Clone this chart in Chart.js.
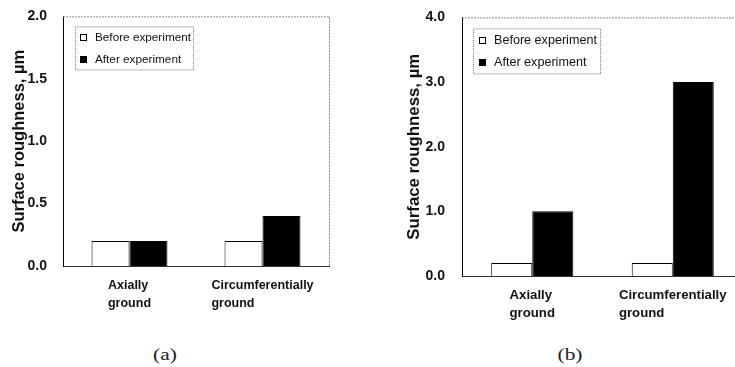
<!DOCTYPE html>
<html>
<head>
<meta charset="utf-8">
<script src="https://cdn.jsdelivr.net/npm/chart.js@4.4.1/dist/chart.umd.min.js"></script>
<style>
  body { margin: 0; background: #fff; width: 735px; height: 367px; overflow: hidden; position: relative; }
  canvas { position: absolute; top: 0; }
  #chartA { left: 0; }
  #chartB { left: 367px; }
  .cap { position: absolute; top: 346px; width: 60px; text-align: center; line-height: 18px;
         font-family: 'Liberation Serif', serif; font-size: 16.5px; color: #222; transform: scaleX(1.3); }
</style>
</head>
<body>
<canvas id="chartA" width="345" height="330"></canvas>
<canvas id="chartB" width="380" height="330"></canvas>
<div class="cap" style="left:135px">(a)</div>
<div class="cap" style="left:540px">(b)</div>
<script>
Chart.defaults.font.family = "'Liberation Sans', Arial, sans-serif";
Chart.defaults.color = '#111';

// shared
var categories = [['Axially', 'ground'], ['Circumferentially', 'ground']];
var seriesNames = ['Before experiment', 'After experiment'];
var yTitle = 'Surface roughness, µm';

// panel (a)
var beforeA = [0.2, 0.2];
var afterA = [0.2, 0.4];
var yTicksA = [0, 0.5, 1.0, 1.5, 2.0];

// panel (b)
var beforeB = [0.2, 0.2];
var afterB = [1.0, 3.0];
var yTicksB = [0, 1.0, 2.0, 3.0, 4.0];

// grey dotted top / right edge of the plot box
var framePlugin = {
  id: 'frame',
  beforeDatasetsDraw: function (chart) {
    var a = chart.chartArea, ctx = chart.ctx;
    ctx.save();
    ctx.strokeStyle = '#8a8a8a';
    ctx.lineWidth = 1;
    ctx.setLineDash([2, 1]);
    ctx.beginPath();
    ctx.moveTo(a.left, a.top + 0.5);
    ctx.lineTo(a.right + 0.5, a.top + 0.5);
    ctx.lineTo(a.right + 0.5, a.bottom);
    ctx.stroke();
    ctx.restore();
  }
};

// boxed legend inside the plot, top left
var boxLegend = {
  id: 'boxLegend',
  afterDraw: function (chart, args, opts) {
    var a = chart.chartArea, ctx = chart.ctx;
    var x = a.left + opts.dx, y = a.top + opts.dy;
    ctx.save();
    ctx.strokeStyle = '#777';
    ctx.lineWidth = 1;
    ctx.setLineDash([1, 1]);
    ctx.strokeRect(x + 0.5, y + 0.5, opts.w, opts.h);
    ctx.setLineDash([]);
    ctx.font = opts.size + "px 'Liberation Sans', Arial";
    ctx.textBaseline = 'middle';
    chart.data.datasets.forEach(function (ds, i) {
      var cy = Math.round(y + opts.rows[i]);
      ctx.fillStyle = ds.backgroundColor;
      ctx.fillRect(x + opts.mx, cy - 3, 7, 7);
      ctx.strokeStyle = '#000';
      ctx.strokeRect(x + opts.mx + 0.5, cy - 2.5, 6, 6);
      ctx.fillStyle = '#111';
      ctx.fillText(ds.label, x + opts.tx, cy + 0.5);
    });
    ctx.restore();
  }
};

// two-line category labels, lines left aligned, block centred on the tick
var groundLabels = {
  id: 'groundLabels',
  afterDraw: function (chart, args, opts) {
    var xs = chart.scales.x, ctx = chart.ctx;
    ctx.save();
    ctx.font = 'bold ' + opts.size + "px 'Liberation Sans', Arial";
    ctx.fillStyle = '#111';
    ctx.textAlign = 'left';
    ctx.textBaseline = 'alphabetic';
    chart.data.labels.forEach(function (lines, i) {
      var w = Math.max.apply(null, lines.map(function (s) { return ctx.measureText(s).width; }));
      var x0 = xs.getPixelForTick(i) - w / 2;
      lines.forEach(function (s, k) {
        ctx.fillText(s, x0, xs.top + 23 + k * 18);
      });
    });
    ctx.restore();
  }
};

function makeChart(id, before, after, yTicks, lay) {
  return new Chart(document.getElementById(id), {
    type: 'bar',
    data: {
      labels: categories,
      datasets: [
        { label: seriesNames[0], data: before, backgroundColor: '#fff', borderColor: '#000', borderWidth: 1,
          categoryPercentage: lay.cat, barPercentage: 1 },
        { label: seriesNames[1], data: after, backgroundColor: '#000', borderColor: '#000', borderWidth: 1,
          categoryPercentage: lay.cat, barPercentage: 1 }
      ]
    },
    options: {
      responsive: false,
      animation: false,
      devicePixelRatio: 1,
      layout: { padding: { top: lay.top, right: lay.right, left: 0, bottom: 0 } },
      scales: {
        x: {
          grid: { display: false },
          border: { color: '#333', width: 1 },
          ticks: { color: 'rgba(0,0,0,0)', maxRotation: 0, font: { size: lay.xFont, weight: 'bold' } },
          afterFit: function (s) { s.height = lay.xh; }
        },
        y: {
          min: 0,
          max: yTicks[yTicks.length - 1],
          grid: { display: false },
          border: { color: '#000', width: 1 },
          afterBuildTicks: function (s) { s.ticks = yTicks.map(function (v) { return { value: v }; }); },
          ticks: {
            padding: lay.tp,
            color: '#111',
            font: { size: 14, weight: 'bold' },
            callback: function (v) { return v.toFixed(1); }
          },
          title: {
            display: true,
            text: yTitle,
            color: '#111',
            font: { size: lay.titleSize, weight: 'bold' },
            padding: { top: lay.titlePad, bottom: 0 }
          },
          afterFit: function (s) { s.width = lay.yw; }
        }
      },
      plugins: {
        legend: { display: false },
        tooltip: { enabled: false },
        boxLegend: lay.legend,
        groundLabels: { size: lay.xFont }
      }
    },
    plugins: [framePlugin, boxLegend, groundLabels]
  });
}

var chartA = makeChart('chartA', beforeA, afterA, yTicksA, {
  top: 15, right: 16, yw: 63, xh: 64, cat: 0.571, tp: 8,
  titleSize: 16.5, titlePad: 10, xFont: 12.5,
  legend: { dx: 12, dy: 10, w: 118, h: 43, mx: 5, tx: 20, rows: [11, 33], size: 11.75 }
});

var chartB = makeChart('chartB', beforeB, afterB, yTicksB, {
  top: 16, right: 4, yw: 95, xh: 54, cat: 0.584, tp: 9,
  titleSize: 16.8, titlePad: 37, xFont: 13.2,
  legend: { dx: 11, dy: 11, w: 127, h: 45, mx: 6, tx: 21, rows: [12, 34], size: 12.6 }
});
</script>
</body>
</html>
